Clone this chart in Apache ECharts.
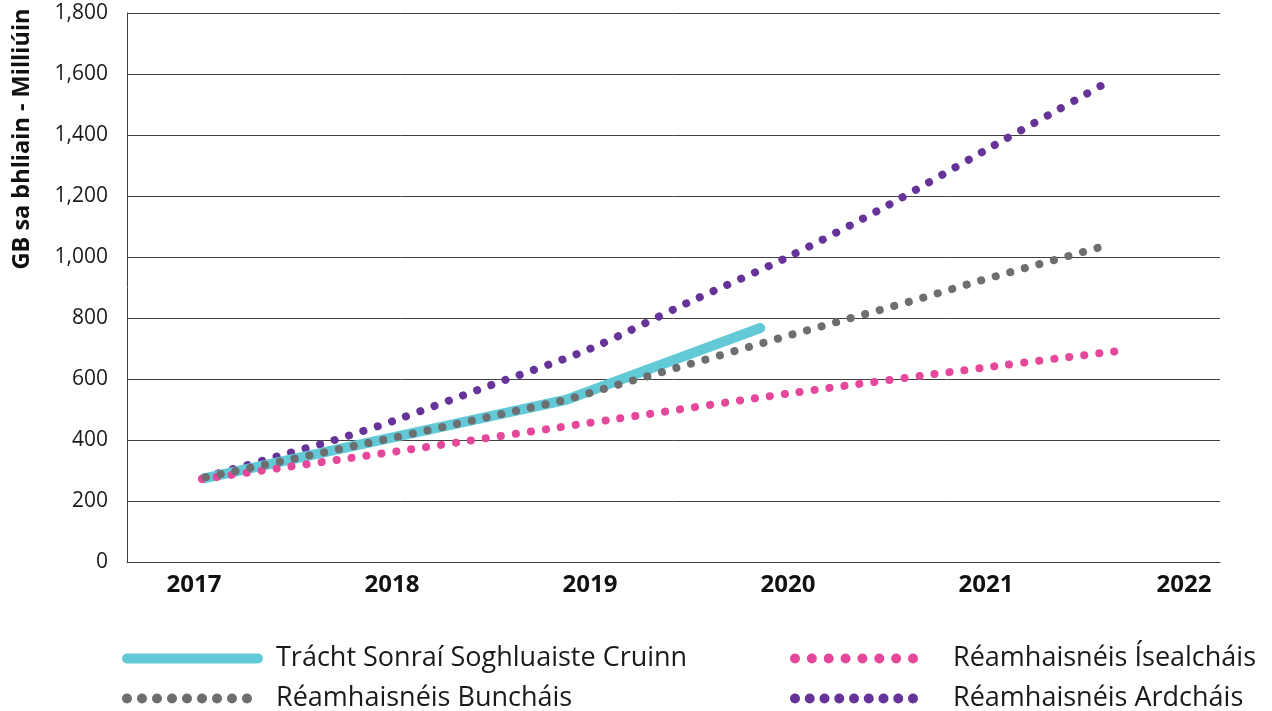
<!DOCTYPE html>
<html>
<head>
<meta charset="utf-8">
<script src="https://cdn.jsdelivr.net/npm/echarts@6/dist/echarts.min.js"></script>
<style>
  html, body { margin: 0; padding: 0; background: #fff; }
  #chart { width: 1272px; height: 711px; }
</style>
</head>
<body>
<div id="chart"></div>
<script>
// values, x is the year as a decimal
const actualYears = [2017.05, 2018.88, 2019.86]
const actualValues = [274, 532, 767]

const baseYears = [2017.06, 2018.1, 2018.88, 2020.0, 2020.6, 2021.0, 2021.62]
const baseValues = [278, 420, 532, 742, 851, 928, 1040]

const lowYears = [2017.04, 2018.08, 2019.13, 2020.02, 2021.0, 2021.67]
const lowValues = [272, 368, 469, 554, 638, 692]

const highYears = [2017.05, 2017.42, 2017.71, 2018.0, 2018.5, 2019.0, 2019.5, 2020.0, 2020.5, 2021.0, 2021.63]
const highValues = [277, 346, 400, 461, 580, 699, 852, 1000, 1168, 1351, 1579]

const seriesNames = [
  'Trácht Sonraí Soghluaiste Cruinn',
  'Réamhaisnéis Buncháis',
  'Réamhaisnéis Ísealcháis',
  'Réamhaisnéis Ardcháis'
]
const yTicks = [0, 200, 400, 600, 800, 1000, 1200, 1400, 1600, 1800]
const yAxisTitle = 'GB sa bhliain - Milliúin'

const FONT = '"Open Sans", "Noto Sans", sans-serif'
const colors = {
  actual: '#62c9d6',
  base: '#6d6e70',
  low: '#e5489b',
  high: '#663499'
}

function pairs(xs, ys) {
  return xs.map((x, i) => [x, ys[i]])
}

// row of dots as a legend icon, with room kept on the right
function dotsIcon(count, width, pad) {
  const r = 5
  const step = (width - 2 * r) / (count - 1)
  let p = ''
  for (let i = 0; i < count; i++) {
    const cx = r + i * step
    p += `M${cx - r},5a${r},${r} 0 1,0 ${2 * r},0a${r},${r} 0 1,0 ${-2 * r},0Z`
  }
  return 'path://' + p + `M${width + pad},0M${width + pad},10`
}

function barIcon(width, pad) {
  const r = 5
  return 'path://' +
    `M${r},0L${width - r},0A${r},${r} 0 0,1 ${width - r},10L${r},10A${r},${r} 0 0,1 ${r},0Z` +
    `M${width + pad},0M${width + pad},10`
}

function legendBlock(name, icon, width, left, top) {
  return {
    data: [{ name: name, icon: icon }],
    left: left,
    top: top,
    padding: 0,
    itemWidth: width,
    itemHeight: 10,
    itemStyle: { borderWidth: 0 },
    selectedMode: false,
    textStyle: { fontFamily: FONT, fontSize: 27, color: '#1a1a1a' }
  }
}

const dotLine = {
  width: 8,
  type: [0.1, 15],
  cap: 'round'
}

const chart = echarts.init(document.getElementById('chart'))
chart.setOption({
  animation: false,
  grid: { left: 127, right: 52, top: 13, bottom: 149 },
  xAxis: {
    type: 'value',
    min: 2016.6616,
    max: 2022.1818,
    splitLine: { show: false },
    axisTick: { show: false },
    axisLine: { lineStyle: { color: '#404040', width: 1 } },
    axisLabel: {
      margin: 11,
      fontFamily: FONT,
      fontSize: 24,
      fontWeight: 'bold',
      color: '#111',
      formatter: v => (Number.isInteger(Math.round(v * 1000) / 1000) ? String(Math.round(v)) : '')
    }
  },
  yAxis: {
    type: 'value',
    min: yTicks[0],
    max: yTicks[yTicks.length - 1],
    interval: yTicks[1] - yTicks[0],
    axisLine: { show: true, lineStyle: { color: '#404040', width: 1 } },
    axisTick: { show: false },
    splitLine: { lineStyle: { color: '#404040', width: 1 } },
    axisLabel: {
      margin: 19,
      fontFamily: FONT,
      fontSize: 21,
      color: '#1a1a1a'
    }
  },
  graphic: [{
    type: 'text',
    x: 22,
    y: 139,
    rotation: Math.PI / 2,
    style: {
      text: yAxisTitle,
      fontFamily: FONT,
      fontSize: 23.5,
      fontWeight: 'bold',
      fill: '#111',
      align: 'center',
      verticalAlign: 'middle'
    }
  }],
  legend: [
    legendBlock(seriesNames[0], barIcon(141, 8), 149, 122, 645),
    legendBlock(seriesNames[1], dotsIcon(9, 130, 19), 149, 122, 685),
    legendBlock(seriesNames[2], dotsIcon(8, 128, 30), 158, 790, 645),
    legendBlock(seriesNames[3], dotsIcon(9, 128, 30), 158, 790, 685)
  ],
  series: [
    {
      name: seriesNames[3],
      type: 'line',
      symbol: 'none',
      smooth: 0.3,
      color: colors.high,
      lineStyle: dotLine,
      data: pairs(highYears, highValues)
    },
    {
      name: seriesNames[0],
      type: 'line',
      symbol: 'none',
      color: colors.actual,
      lineStyle: { width: 10, cap: 'round', join: 'round' },
      data: pairs(actualYears, actualValues)
    },
    {
      name: seriesNames[2],
      type: 'line',
      symbol: 'none',
      smooth: 0.3,
      color: colors.low,
      lineStyle: dotLine,
      data: pairs(lowYears, lowValues)
    },
    {
      name: seriesNames[1],
      type: 'line',
      symbol: 'none',
      color: colors.base,
      lineStyle: dotLine,
      data: pairs(baseYears, baseValues)
    }
  ]
})
</script>
</body>
</html>
